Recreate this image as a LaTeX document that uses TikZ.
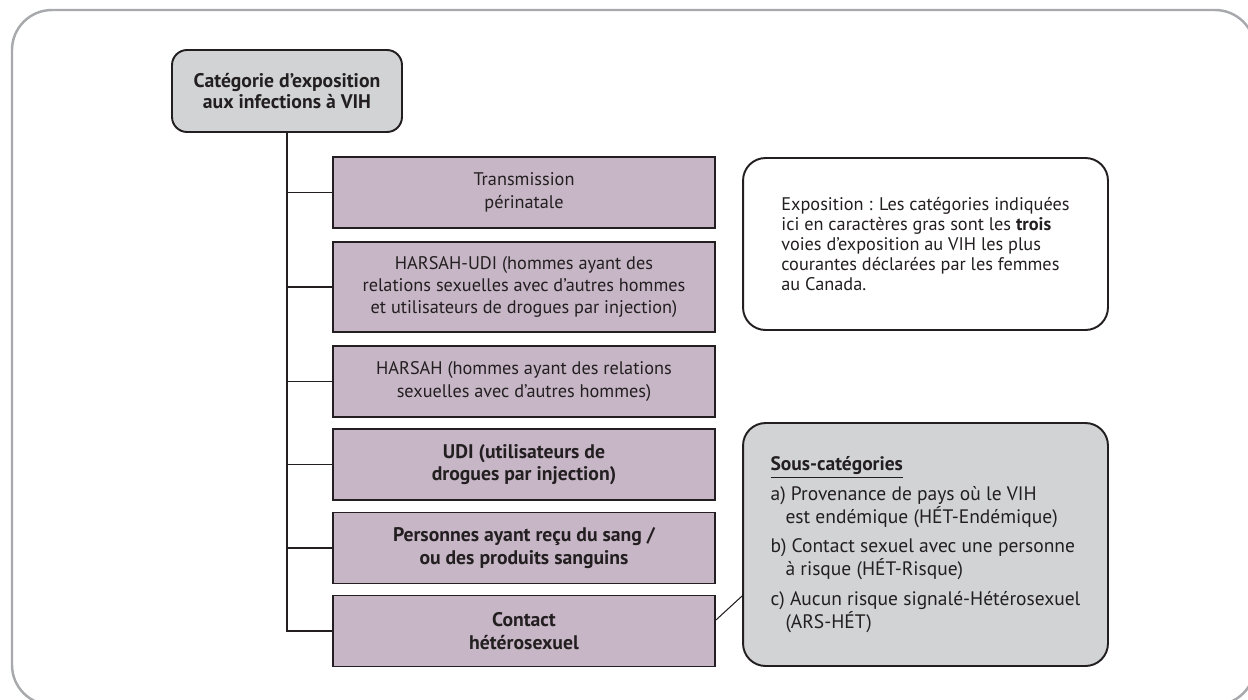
\documentclass[tikz,border=0pt]{standalone}
\usepackage{fontspec}
\setmainfont{PT Sans}
\definecolor{framegray}{RGB}{167,169,172}
\definecolor{boxpurple}{RGB}{198,182,198}
\definecolor{notegray}{RGB}{209,211,212}
\definecolor{inkdark}{RGB}{35,31,32}
\usetikzlibrary{positioning}

\begin{document}
\begin{tikzpicture}[x=0.02cm, y=-0.02cm,
  catbox/.style={draw=inkdark, line width=1.1pt, fill=boxpurple, text=inkdark,
    minimum width=7.64cm, minimum height=1.42cm, align=center,
    font=\fontsize{10.4}{12.75}\selectfont},
  boldcat/.style={catbox, font=\fontsize{11.2}{12.75}\selectfont\bfseries},
  rootbox/.style={draw=inkdark, line width=1.1pt, fill=notegray, text=inkdark,
    rounded corners=0.3cm, minimum width=4.6cm, minimum height=1.64cm, align=center,
    font=\fontsize{11.2}{12}\selectfont\bfseries},
  sidebox/.style={draw=inkdark, line width=1.1pt, text=inkdark, rounded corners=0.45cm,
    minimum width=7.3cm, align=left, font=\fontsize{10.4}{11.3}\selectfont},
  linkline/.style={draw=inkdark, line width=1.1pt}]
  \useasboundingbox (0,0) rectangle (1248,700);

  % Frame
  \draw[framegray, line width=1.4pt, rounded corners=0.8cm] (12,10) rectangle (1255,705);

  % Root
  \node[rootbox] (root) at (287,91) {Catégorie d’exposition\\aux infections à VIH};

  % Categories
  \node[catbox] (trans) at (524,192.5) {Transmission\\périnatale};
  \node[catbox, minimum height=1.8cm] (harsahudi) at (524,287)
    {HARSAH-UDI (hommes ayant des\\relations sexuelles avec d’autres hommes\\et utilisateurs de drogues par injection)};
  \node[catbox] (harsah) at (524,381.5) {HARSAH (hommes ayant des relations\\sexuelles avec d’autres hommes)};
  \node[boldcat] (udi) at (524,464.5) {UDI (utilisateurs de\\drogues par injection)};
  \node[boldcat] (sang) at (524,548) {Personnes ayant reçu du sang /\\ou des produits sanguins};
  \node[boldcat] (contact) at (524,631) {Contact\\hétérosexuel};

  % Tree
  \draw[linkline] (root.south) |- (contact.west);
  \foreach \b in {trans,harsahudi,harsah,udi,sang}
    \draw[linkline] (root.south |- \b.west) -- (\b.west);

  % Notes
  \node[sidebox, fill=white, minimum height=3.44cm] (note) at (925.5,244)
    {Exposition : Les catégories indiquées\\ici en caractères gras sont les \textbf{trois}\\voies d’exposition au VIH les plus\\courantes déclarées par les femmes\\au Canada.};
  \node[sidebox, fill=notegray, minimum height=4.86cm, font=\fontsize{11.1}{13}\selectfont] (subcat) at (925.5,544.5)
    {\textbf{\underline{Sous-catégories}}\\[4pt]
     a) Provenance de pays où le VIH\\\hspace*{8.5pt}est endémique (HÉT-Endémique)\\[4pt]
     b) Contact sexuel avec une personne\\\hspace*{8.5pt}à risque (HÉT-Risque)\\[4pt]
     c) Aucun risque signalé-Hétérosexuel\\\hspace*{8.5pt}(ARS-HÉT)};
  \draw[inkdark, line width=0.6pt] ([yshift=0.22cm]contact.east) -- ([yshift=-1.03cm]subcat.west);
\end{tikzpicture}
\end{document}
